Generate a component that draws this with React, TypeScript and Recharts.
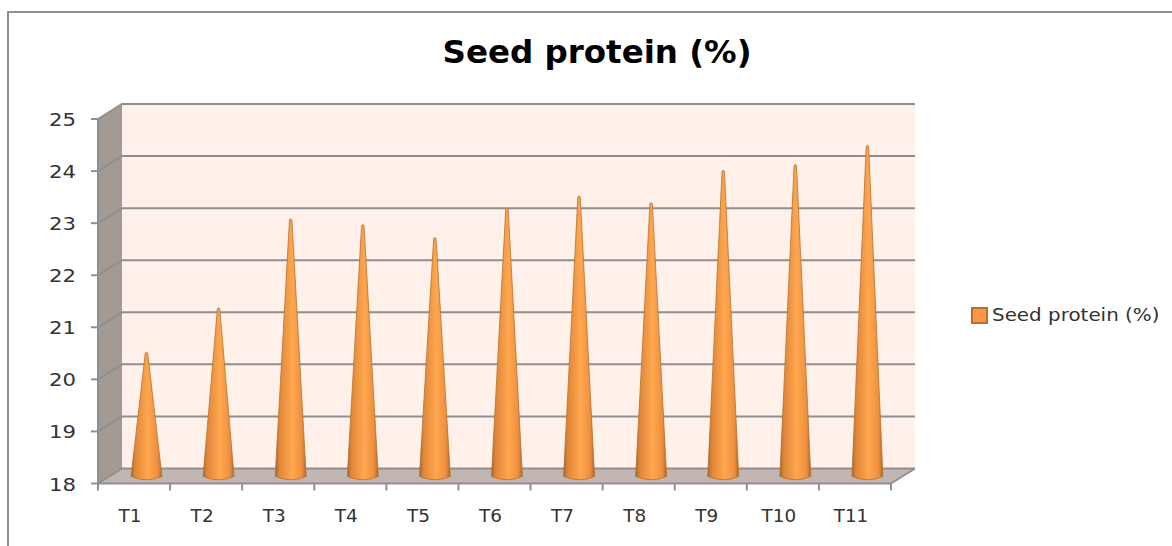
import { BarChart, Bar, XAxis, YAxis, Legend } from 'recharts';

const CATEGORIES = ['T1', 'T2', 'T3', 'T4', 'T5', 'T6', 'T7', 'T8', 'T9', 'T10', 'T11'];
const SEED_PROTEIN = [20.38, 21.23, 22.94, 22.83, 22.58, 23.15, 23.38, 23.25, 23.87, 23.98, 24.35];
const Y_TICKS = [18, 19, 20, 21, 22, 23, 24, 25];
const SERIES_NAME = 'Seed protein (%)';

const data = CATEGORIES.map((name, i) => ({ name, value: SEED_PROTEIN[i] }));

const WIDTH = 1172;
const HEIGHT = 546;
// front plane of the fake 3D box
const LEFT = 98;
const RIGHT = 891;
const TOP = 119;
const BOTTOM = 483.5;
// how far the back wall is pushed from the front plane
const DX = 24;
const DY = -15;
const LINE = '#8f8f8f';
const TEXT = '#333333';
const FONT = '"DejaVu Sans", Verdana, sans-serif';

const yOf = (v: number) => BOTTOM - ((v - 18) / 7) * (BOTTOM - TOP);

function Box() {
  const catWidth = (RIGHT - LEFT) / CATEGORIES.length;
  return (
    <g>
      <defs>
        <linearGradient id="cone" x1="0" y1="0" x2="1" y2="0">
          <stop offset="0%" stopColor="#a9652c" />
          <stop offset="14%" stopColor="#e08838" />
          <stop offset="55%" stopColor="#ffa64f" />
          <stop offset="86%" stopColor="#ee903e" />
          <stop offset="100%" stopColor="#ad682e" />
        </linearGradient>
      </defs>
      {/* back wall */}
      <rect x={LEFT + DX} y={TOP + DY} width={RIGHT - LEFT} height={BOTTOM - TOP} fill="#fff0e9" />
      {/* side wall */}
      <polygon
        points={`${LEFT},${TOP} ${LEFT + DX},${TOP + DY} ${LEFT + DX},${BOTTOM + DY} ${LEFT},${BOTTOM}`}
        fill="#a49a94"
      />
      {/* floor */}
      <polygon
        points={`${LEFT},${BOTTOM} ${LEFT + DX},${BOTTOM + DY} ${RIGHT + DX},${BOTTOM + DY} ${RIGHT},${BOTTOM}`}
        fill="#c1b6b2"
      />
      {Y_TICKS.map((t) => (
        <polyline
          key={t}
          points={`${LEFT},${yOf(t)} ${LEFT + DX},${yOf(t) + DY} ${RIGHT + DX},${yOf(t) + DY}`}
          fill="none"
          stroke={LINE}
          strokeWidth={2}
        />
      ))}
      <line x1={RIGHT} y1={BOTTOM} x2={RIGHT + DX} y2={BOTTOM + DY} stroke={LINE} strokeWidth={2} />
      {/* ticks sit on the category boundaries */}
      {CATEGORIES.map((c, i) => (
        <line
          key={c}
          x1={LEFT + catWidth * i}
          x2={LEFT + catWidth * i}
          y1={BOTTOM}
          y2={BOTTOM + 7}
          stroke={LINE}
          strokeWidth={2}
        />
      ))}
      <line x1={RIGHT} x2={RIGHT} y1={BOTTOM} y2={BOTTOM + 7} stroke={LINE} strokeWidth={2} />
      {/* the reference is stretched sideways, so the text is too */}
      <text
        x={597}
        y={63}
        textAnchor="middle"
        fontFamily={FONT}
        fontWeight={700}
        fontSize={32}
        fill="#000"
        textLength={309}
        lengthAdjust="spacingAndGlyphs"
      >
        {SERIES_NAME}
      </text>
    </g>
  );
}

function Cone(props: any) {
  const { x, y, width, height } = props;
  const left = x + DX / 2;
  const right = left + width;
  const mid = left + width / 2;
  const tip = y + DY / 2;
  const base = y + height + DY / 2 + 0.5;
  const d = `M${left},${base} L${mid - 1.2},${tip + 1} Q${mid},${tip - 1} ${mid + 1.2},${tip + 1} L${right},${base} Q${mid},${base + 6.5} ${left},${base} Z`;
  return <path d={d} fill="url(#cone)" stroke="#b8702f" strokeWidth={0.8} />;
}

function AxisTick(props: any) {
  const { x, y, payload, textAnchor, shiftX, shiftY, perChar } = props;
  const label = String(payload.value);
  return (
    <text
      x={x + shiftX}
      y={y + shiftY}
      textAnchor={textAnchor}
      fontFamily={FONT}
      fontSize={17.5}
      fill={TEXT}
      textLength={label.length * perChar}
      lengthAdjust="spacingAndGlyphs"
    >
      {label}
    </text>
  );
}

function LegendBox() {
  return (
    <div style={{ display: 'flex', alignItems: 'center', fontFamily: FONT, fontSize: 17, color: TEXT }}>
      <span
        style={{
          width: 13,
          height: 13,
          background: '#f79646',
          border: '2px solid #b8702f',
          marginRight: 4,
          flex: 'none',
        }}
      />
      <span style={{ whiteSpace: 'nowrap', transform: 'scaleX(1.17)', transformOrigin: 'left center' }}>{SERIES_NAME}</span>
    </div>
  );
}

export default function App() {
  return (
    <div style={{ position: 'absolute', left: 0, top: 0, width: WIDTH, height: HEIGHT, background: '#fff', overflow: 'hidden' }}>
      <div style={{ position: 'absolute', left: 7, top: 11, right: -4, bottom: -4, borderLeft: `2px solid ${LINE}`, borderTop: `2px solid ${LINE}` }} />
      <BarChart
        width={WIDTH}
        height={HEIGHT}
        data={data}
        barSize={31}
        margin={{ top: TOP, left: 8, right: WIDTH - RIGHT - 201, bottom: HEIGHT - BOTTOM - 40 }}
        style={{ position: 'absolute', left: 0, top: 0 }}
      >
        <Box />
        <XAxis
          dataKey="name"
          height={40}
          axisLine={{ stroke: LINE, strokeWidth: 2 }}
          tickLine={false}
          tick={<AxisTick shiftX={-4} shiftY={10} perChar={11.5} textAnchor="middle" />}
          tickMargin={22}
          interval={0}
        />
        <YAxis
          width={90}
          domain={[18, 25]}
          ticks={Y_TICKS}
          axisLine={{ stroke: LINE, strokeWidth: 2 }}
          tickLine={{ stroke: LINE, strokeWidth: 2 }}
          tickSize={7}
          tickMargin={15}
          tick={<AxisTick shiftX={0} shiftY={7} perChar={13.5} textAnchor="end" />}
        />
        <Legend
          layout="vertical"
          align="right"
          verticalAlign="middle"
          width={201}
          content={<LegendBox />}
          wrapperStyle={{ left: 971, top: 305, width: 201 }}
        />
        <Bar dataKey="value" name={SERIES_NAME} fill="#f79646" shape={<Cone />} isAnimationActive={false} />
      </BarChart>
    </div>
  );
}
